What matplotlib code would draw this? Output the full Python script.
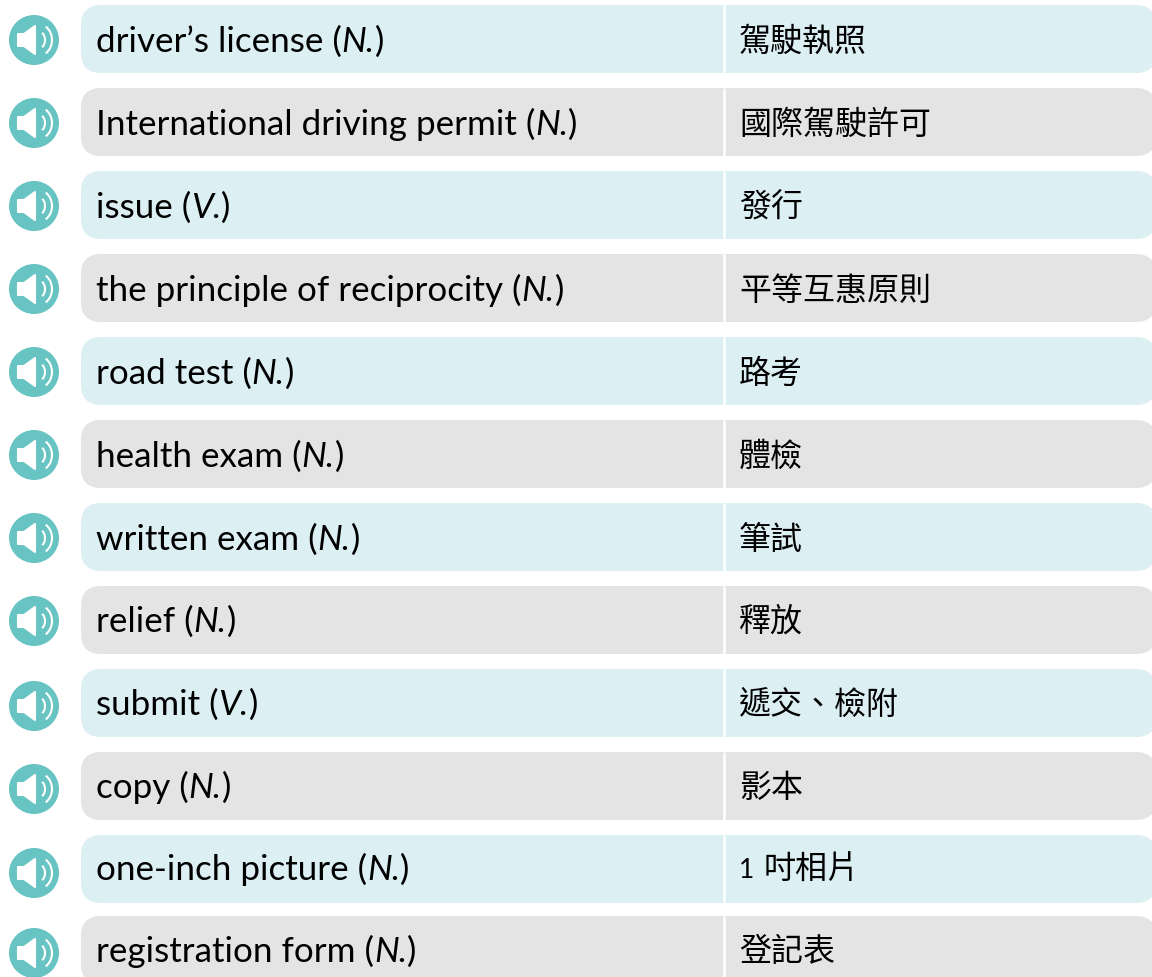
import matplotlib
matplotlib.use("Agg")
import matplotlib.pyplot as plt
from matplotlib.patches import Circle, Polygon, Arc, FancyBboxPatch

# vocabulary table
terms = ["driver’s license", "International driving permit", "issue",
         "the principle of reciprocity", "road test", "health exam",
         "written exam", "relief", "submit", "copy", "one-inch picture",
         "registration form"]
parts = ["N.", "N.", "V.", "N.", "N.", "N.", "N.", "N.", "V.", "N.", "N.", "N."]
translations = ["駕駛執照", "國際駕駛許可", "發行", "平等互惠原則", "路考", "體檢",
                "筆試", "釋放", "遞交、檢附", "影本", "1 吋相片", "登記表"]

# layout in pixels
row_tops = [5, 88, 171, 254, 337, 420, 503, 586, 669, 752, 835, 916]
icon_y = [40, 123, 206, 289, 372, 455, 538, 621, 706, 789, 873, 953]
baselines = [52, 135, 218, 301, 384, 467, 550, 632, 715, 798, 880, 962]
row_h = 68

blue = "#DCEFF3"
gray = "#E4E4E4"
teal = "#67C4C3"
latin = "Lato"
cjk = "Noto Sans CJK TC"

fig = plt.figure(figsize=(11.52, 9.77), dpi=100)
ax = fig.add_axes([0, 0, 1, 1])
ax.set_xlim(0, 1152)
ax.set_ylim(977, 0)
ax.axis("off")


def speaker(cy, cx=34):
    ax.add_patch(Circle((cx, cy), 25, fc=teal, ec="none"))
    ax.add_patch(Polygon([(18, cy - 6), (24, cy - 6), (35, cy - 14), (35, cy + 14),
                          (24, cy + 6), (18, cy + 6)], fc="white", ec="white",
                         lw=1.5, joinstyle="round"))
    ax.add_patch(Arc((38, cy), 14, 18, theta1=-60, theta2=60, color="white", lw=1.5))
    ax.add_patch(Arc((38, cy), 28, 32, theta1=-60, theta2=60, color="white", lw=1.5))


def run(x, y, s, **kw):
    # draw a piece of text and return where the next one starts
    t = ax.text(x, y, s, va="baseline", ha="left", color="black", **kw)
    box = t.get_window_extent(fig.canvas.get_renderer())
    inv = ax.transData.inverted()
    return x + inv.transform((box.x1, 0))[0] - inv.transform((box.x0, 0))[0]


for i, top in enumerate(row_tops):
    color = blue if i % 2 == 0 else gray
    ax.add_patch(FancyBboxPatch((81 + 20, top + 20), 1075 - 40, row_h - 40,
                                boxstyle="round,pad=20,rounding_size=20",
                                fc=color, ec="none"))
    ax.plot([723.5, 723.5], [top, top + row_h], color="white", lw=1.8,
            solid_capstyle="butt")
    speaker(icon_y[i])

    base = baselines[i]
    x = run(96, base, terms[i] + " (", family=latin, size=25.2)
    x = run(x, base, parts[i], family=latin, style="italic", size=25.2)
    run(x, base, ")", family=latin, size=25.2)

    word = translations[i]
    if word[0].isdigit():
        # the digit in the picture is set smaller than the characters
        run(739, base - 2, word[0], family=latin, size=19)
        ax.text(763.5, base - 1, word[2:], va="baseline", ha="left", color="black",
                family=cjk, size=23)
    else:
        ax.text(739, base - 1, word, va="baseline", ha="left", color="black",
                family=cjk, size=23)

fig.savefig("out.png", dpi=100)
